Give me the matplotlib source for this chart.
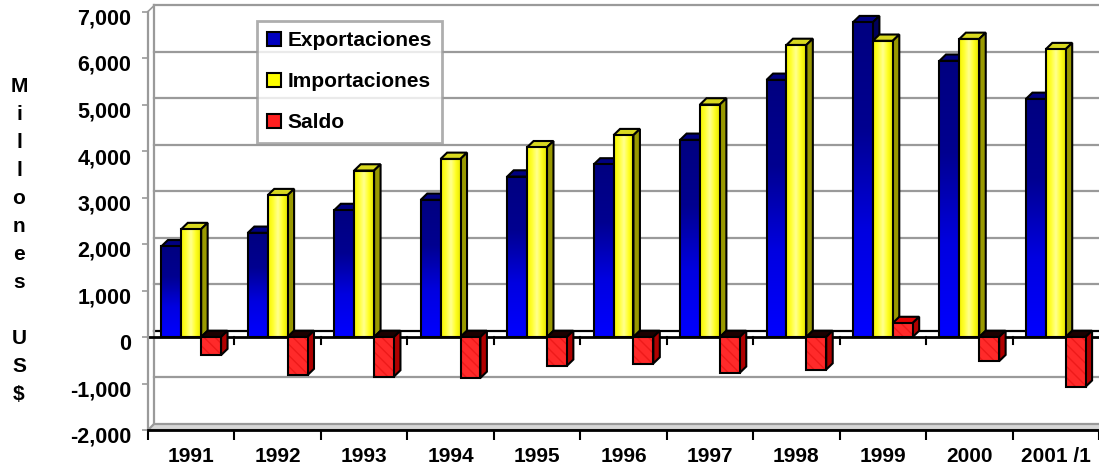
import matplotlib.pyplot as plt
import numpy as np
from matplotlib.patches import Polygon, Patch
from matplotlib.colors import LinearSegmentedColormap
from matplotlib.transforms import ScaledTranslation

plt.rcParams['font.family'] = ['Liberation Sans', 'DejaVu Sans']
plt.rcParams['font.weight'] = 'bold'

# datos (millones US$)
anios = ['1991', '1992', '1993', '1994', '1995', '1996', '1997', '1998', '1999', '2000', '2001 /1']
exportaciones = [1950, 2240, 2730, 2950, 3450, 3710, 4240, 5530, 6770, 5940, 5120]
importaciones = [2320, 3050, 3580, 3830, 4080, 4340, 5000, 6280, 6370, 6410, 6190]
saldo = [-390, -820, -850, -880, -620, -570, -770, -700, 300, -520, -1070]
yticks = list(range(-2000, 7001, 1000))

fig = plt.figure(figsize=(10.99, 4.74), dpi=100)
ax = fig.add_axes([148 / 1099, 44 / 474, 951 / 1099, 418.5 / 474])

# profundidad 3D (en unidades de datos)
dx, dy = 0.075, 135
ancho = 0.23
n = len(anios)

# pared del fondo y piso
gris = '#9a9a9a'
for v in yticks[1:]:
    col = 'black' if v == 0 else gris
    ax.plot([dx, n + 0.3], [v + dy, v + dy], color=col, lw=1.6, zorder=1, clip_on=False)
ax.plot([dx, dx], [-2000 + dy, 7000 + dy], color=gris, lw=1.6, zorder=1, clip_on=False)
ax.plot([0, dx], [7000, 7000 + dy], color=gris, lw=1.2, zorder=1, clip_on=False)
ax.add_patch(Polygon([(0, -2000), (n + 0.3, -2000), (n + 0.3, -2000 + dy), (dx, -2000 + dy)],
                     closed=True, facecolor='#d8d8d8', edgecolor=gris, lw=1.6, zorder=1, clip_on=False))
# plano del cero
ax.plot([0, n + 0.3], [0, 0], color='black', lw=2, zorder=1, clip_on=False)
for i in range(1, n):
    ax.plot([i, i], [0, -150], color='black', lw=1.5, zorder=1)

azul = LinearSegmentedColormap.from_list('azul', ['#0000ff', '#0000e0', '#000090', '#000080'])
amarillo = LinearSegmentedColormap.from_list('amar', ['#f4f400', '#ffff30', '#ffff90', '#ffff20', '#e6e600'])


def caja(x0, v, tope, lado, z):
    x1 = x0 + ancho
    ytop = max(v, 0)
    ax.add_patch(Polygon([(x0, ytop), (x1, ytop), (x1 + dx, ytop + dy), (x0 + dx, ytop + dy)],
                         closed=True, facecolor=tope, edgecolor='black', lw=1.5, zorder=z))
    ax.add_patch(Polygon([(x1, 0), (x1 + dx, dy), (x1 + dx, v + dy), (x1, v)],
                         closed=True, facecolor=lado, edgecolor='black', lw=1.5, zorder=z))


for i in range(n):
    c = i + 0.5
    xe = c - 1.5 * ancho
    xi = c - 0.5 * ancho
    xs = c + 0.5 * ancho
    # exportaciones
    z = 3
    caja(xe, exportaciones[i], '#000080', '#00005a', z)
    ax.imshow(np.linspace(0, 1, 128).reshape(-1, 1), extent=(xe, xe + ancho, 0, exportaciones[i]),
              origin='lower', aspect='auto', cmap=azul, zorder=z + 0.1)
    ax.bar(xe, exportaciones[i], width=ancho, align='edge', fill=False, edgecolor='black', lw=1.5, zorder=z + 0.2)
    # importaciones
    z = 4
    caja(xi, importaciones[i], '#d8d820', '#999900', z)
    ax.imshow(np.linspace(0, 1, 64).reshape(1, -1), extent=(xi, xi + ancho, 0, importaciones[i]),
              origin='lower', aspect='auto', cmap=amarillo, zorder=z + 0.1)
    ax.bar(xi, importaciones[i], width=ancho, align='edge', fill=False, edgecolor='black', lw=1.5, zorder=z + 0.2)
    # saldo
    z = 5
    tope = '#e00000' if saldo[i] > 0 else '#1a0000'
    caja(xs, saldo[i], tope, '#b00000', z)
    ax.bar(xs, saldo[i], width=ancho, align='edge', color='#ff2a2a', hatch='\\\\\\', edgecolor='#ee1a1a',
           lw=0, zorder=z + 0.1)
    ax.bar(xs, saldo[i], width=ancho, align='edge', fill=False, edgecolor='black', lw=1.5, zorder=z + 0.2)

ax.set_xlim(0, n)
ax.set_ylim(-2000, 7000)

for s in ['top', 'right']:
    ax.spines[s].set_visible(False)
ax.spines['left'].set_color(gris)
ax.spines['left'].set_linewidth(1.6)
ax.spines['bottom'].set_color('black')
ax.spines['bottom'].set_linewidth(2)

ax.set_yticks(yticks)
ax.set_yticklabels([f'{v:,}' for v in yticks], fontsize=15.5, fontweight='bold')
ax.tick_params(axis='y', length=4, width=1.2, color=gris, pad=8)
for lab in ax.get_yticklabels():
    lab.set_transform(lab.get_transform() + ScaledTranslation(0, -5 / 100, fig.dpi_scale_trans))

ax.set_xticks(np.arange(n) + 0.5)
ax.set_xticklabels(anios, fontsize=15, fontweight='bold')
ax.set_xticks(np.arange(n + 1), minor=True)
ax.tick_params(axis='x', which='major', length=0, pad=12)
ax.tick_params(axis='x', which='minor', length=7, width=1.5, color='black')

fig.text(19 / 1099, 1 - 240 / 474, 'M\ni\nl\nl\no\nn\ne\ns\n\nU\nS\n$', ha='center', va='center',
         fontsize=15, fontweight='bold', linespacing=1.6)

handles = [Patch(facecolor='#0000c0', edgecolor='black', lw=1.5),
           Patch(facecolor='#ffff00', edgecolor='black', lw=1.5),
           Patch(facecolor='#ff2020', edgecolor='black', lw=1.5)]
leg = fig.legend(handles, ['Exportaciones', 'Importaciones', 'Saldo'], loc='upper left',
                 bbox_to_anchor=(257 / 1099, 1 - 21 / 474), borderaxespad=0, fancybox=False,
                 frameon=True, prop={'size': 15, 'weight': 'bold'}, handlelength=0.65, handleheight=0.65,
                 handletextpad=0.3, labelspacing=1.05, borderpad=0.5)
leg.get_frame().set_edgecolor(gris)
leg.get_frame().set_linewidth(2)

fig.savefig('out.png', dpi=100)
